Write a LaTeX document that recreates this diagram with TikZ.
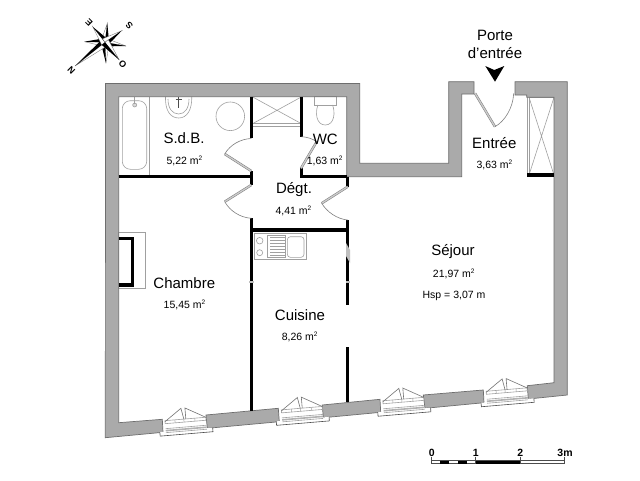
\documentclass[tikz,border=0pt]{standalone}
\usepackage{fontspec}
\setmainfont{Liberation Sans}
\usetikzlibrary{calc}
\definecolor{wallc}{RGB}{170,170,170}
\definecolor{wallo}{RGB}{110,110,110}
\definecolor{fixt}{RGB}{160,160,160}
\tikzset{
  wall/.style={fill=wallc,draw=wallo,line width=0.7pt},
  part/.style={line width=3.4pt,black},
  thin fix/.style={draw=fixt,line width=0.6pt},
  swing/.style={draw=fixt!80!black,line width=0.6pt},
  room/.style={font=\fontsize{15}{17}\selectfont,inner sep=0pt},
  area/.style={font=\fontsize{10.5}{12}\selectfont,inner sep=0pt},
  scal/.style={font=\bfseries\fontsize{10.5}{12}\selectfont,inner sep=0pt},
  comp/.style={font=\bfseries\fontsize{9}{10}\selectfont,inner sep=0pt},
  pics/windowunit/.style={code={
    \draw[thin fix,draw=black!70,fill=white] (-26,9) -- (-26,13) -- (27,13) -- (27,9);
    \draw[thin fix] (-20,6) -- (21,6);
    \draw[thin fix,line width=1.6pt,draw=black!30] (-20,8) -- (21,8);
    \draw[thin fix] (-20,10) -- (21,10);
    \draw[thin fix,fill=white] (-20,-2) rectangle (21,1);
    \draw[thin fix,line width=0.5pt] (-1,-2) -- (-1,1) (-10,-2) -- (-10,1) (10,-2) -- (10,1);
    \draw[thin fix,draw=black!55] (-20,-1) -- (-3,-13) -- (-1,-2);
    \draw[thin fix,draw=black!55] (1,-2) -- (1,-13) -- (21,-2);
  }}
}
\newcommand{\msq}[1]{#1 m\textsuperscript{\fontsize{6.5}{7}\selectfont 2}}
\begin{document}
\begin{tikzpicture}[x=1pt,y=-1pt]
\useasboundingbox[fill=white] (0,0) rectangle (640,480);

% fixtures under walls
\draw[thin fix] (149.7,96.7) -- (149.7,176);
\draw[thin fix,rounded corners=8pt] (122.3,100.7) rectangle (146.7,169.3);
\draw[thin fix,fill=white!70!gray] (134.7,105) circle (2);
\draw[thin fix] (134.7,97) -- (134.7,104);
\draw[thin fix] (165.5,96.7) .. controls (165,110) and (170,118) .. (178.7,118) .. controls (187,118) and (192,110) .. (191.8,96.7);
\draw[thin fix] (168,99) .. controls (168,108) and (172,114) .. (178.7,114) .. controls (185,114) and (189,108) .. (189,99);
\draw[black!70,line width=0.8pt] (178.7,97) -- (178.7,108) (175.5,99) -- (181.5,99);
\draw[thin fix] (230.3,116.3) circle (14.3);
% shower
\draw[thin fix] (253.3,97.3) -- (300.7,123.3) (300.7,97.3) -- (253.3,123.3);
\draw[thin fix] (253.3,123.3) -- (300.7,123.3) (253.3,126.5) -- (300.7,126.5);
% wc
\draw[thin fix] (314,96.7) rectangle (336.7,105);
\draw[thin fix] (318,105) .. controls (315,112) and (316,125) .. (325.3,125) .. controls (334.5,125) and (335.5,112) .. (332.5,105);
% closet chambre
\draw[thin fix] (118.7,232.3) rectangle (145.3,288.3);
% entry closet
\draw[thin fix] (527.3,96) -- (527.3,175);
\draw[thin fix] (529,97.3) rectangle (554,175);
\draw[thin fix] (529,97.3) -- (554,175) (554,97.3) -- (529,175);
% kitchen
\draw[thin fix] (254,233.3) rectangle (306,259.3);
\draw[thin fix] (259.7,240.7) circle (3.3) (259.7,252.7) circle (3);
\draw[thin fix,line width=0.4pt] (266.7,235) rectangle (285,257);
\foreach \yy in {237,240,243,246,249,252,255} \draw[thin fix,line width=0.4pt] (270,\yy) -- (285,\yy);
\draw[thin fix,rounded corners=3pt] (287.3,236.7) rectangle (304,257.3);

% walls
\draw[wall] (105.5,83.5) -- (359.7,83.5) -- (359.7,163.3) -- (448.7,163.3) -- (448.7,81.7) -- (474,81.7) -- (474,94) -- (461.7,94) -- (461.7,176.7) -- (346.7,176.7) -- (346.7,96.7) -- (118.7,96.7) -- (118.7,422.7) -- (162.3,419.3) -- (163,432.3) -- (105.3,437.7) -- cycle;
\draw[wall] (515,81.7) -- (567.3,81.7) -- (567.3,395) -- (528.3,399) -- (527.3,385.7) -- (554,382.7) -- (554,97.3) -- (526.7,97.3) -- (526.7,95) -- (515,95) -- cycle;
\draw[wall] (423.3,395) -- (483.3,390) -- (484,402.7) -- (425,408.3) -- cycle;
\draw[wall] (322.3,405) -- (380,399.3) -- (380.7,412.3) -- (323.3,417.7) -- cycle;
\draw[wall] (206,415) -- (278.3,408.3) -- (279.3,421.7) -- (207.3,428.3) -- cycle;

% partitions
\draw[part] (118.7,176.7) -- (251.3,176.7);
\draw[part] (251.3,96.7) -- (251.3,138);
\draw[part] (251.3,171) -- (251.3,185.3);
\draw[part] (251.3,218.3) -- (251.3,410.5);
\draw[part] (301.7,96.7) -- (301.7,136.7);
\draw[part] (301.7,168.3) -- (301.7,176.7) -- (346.7,176.7);
\draw[part] (347.7,176.7) -- (347.7,186.7);
\draw[part] (347.7,220) -- (347.7,305);
\draw[part] (347.7,347.3) -- (347.7,402.3);
\draw[part] (251.3,230) -- (347.7,230);
\draw[part] (118.7,238.3) -- (132.7,238.3) -- (132.7,285) -- (118.7,285);
\draw[part] (527.3,175) -- (554,175);
% faint marks across the partitions
\fill[black!25] (346,243) -- (350,250) -- (350,263) -- (346,256) -- cycle;
\fill[black!25] (345.5,280.5) rectangle (350,283);
\fill[black!25] (249.2,280.5) rectangle (253.5,283);

% doors
\foreach \xa/\ya/\xb/\yb in {251.3/171/224.7/154, 301/168.3/316.7/141.7, 251.3/185/224.7/201.7, 347.7/186.7/321.7/203.3, 475/93.3/495/126.7}{
  \draw[line width=2.4pt,black!50] (\xa,\ya) -- (\xb,\yb);
  \draw[line width=1.3pt,black!20] (\xa,\ya) -- (\xb,\yb);
}
\draw[swing] (224.7,154) .. controls (230,145) and (240,139) .. (251.3,138.5);
\draw[swing] (316.7,141.7) .. controls (312,138.5) and (307,137) .. (301.7,136.7);
\draw[swing] (224.7,201.7) .. controls (230,211) and (240,217.5) .. (251.3,218.3);
\draw[swing] (321.7,203.3) .. controls (327,212) and (337,219) .. (347.7,220);
\draw[swing] (495,126.7) .. controls (505,121) and (513,108) .. (513.7,93.3);

% windows
\pic[rotate=4.8] at (185,421) {windowunit};
\pic[rotate=4.8] at (301.4,410.2) {windowunit};
\pic[rotate=4.8] at (402.9,401.1) {windowunit};
\pic[rotate=4.8] at (506.2,391.6) {windowunit};

% entrance arrow
\fill[black] (485.3,66) -- (494.3,70) -- (504.3,66) -- (495,81.7) -- cycle;

% labels
\node[room] (sdb) at (184,138) {S.d.B.};
\node[area] (asdb) at (184.7,161) {\msq{5,22}};
\node[room] (wc) at (325.3,139) {WC};
\node[area] (awc) at (325,160.5) {\msq{1,63}};
\node[room] (degt) at (294,190) {Dégt.};
\node[area] (adegt) at (293.7,211) {\msq{4,41}};
\node[room] (entree) at (494.3,142.7) {Entrée};
\node[area] (aentree) at (494.7,165) {\msq{3,63}};
\node[room] (porte) at (495,35) {Porte};
\node[room] (dentree) at (495,53) {d'entrée};
\node[room] (chambre) at (184.3,282.7) {Chambre};
\node[area] (achambre) at (184.7,305.3) {\msq{15,45}};
\node[room] (cuisine) at (300,315) {Cuisine};
\node[area] (acuisine) at (300,336.7) {\msq{8,26}};
\node[room] (sejour) at (453,252) {Séjour};
\node[area] (asejour) at (454,274) {\msq{21,97}};
\node[area] (hsp) at (454,296) {Hsp = 3,07 m};

% scale bar
\draw[black!70,line width=0.5pt,fill=white] (431.7,460.7) rectangle (564.7,463.3);
\foreach \xa/\xb in {440.3/449.3,458.3/467,476/520.3}
  \fill[black] (\xa,460.5) rectangle (\xb,463.5);
\foreach \xx in {431.7,475.7,520.3,564.7}
  \draw[black!70,line width=0.7pt] (\xx,456.5) -- (\xx,463.3);
\node[scal] (s0) at (431.7,452.7) {0};
\node[scal] (s1) at (475.7,452.7) {1};
\node[scal] (s2) at (520.3,452.7) {2};
\node[scal] (s3) at (565,452.7) {3m};

% compass
\coordinate (cc) at (105,42.3);
\foreach \px/\py in {107.3/23.3, 126/46, 106/63.3, 84.3/41.7, 75/66, 92.7/26.7, 121.7/30.7, 119.3/60}{
  \coordinate (tmpb) at (\px,\py);
  \coordinate (sl) at ($(cc)!4.2pt!90:(tmpb)$);
  \coordinate (sr) at ($(cc)!4.2pt!-90:(tmpb)$);
  \draw[fill=white,line width=0.3pt,draw=black!60] (cc) -- (sl) -- (tmpb) -- cycle;
  \fill[black] (cc) -- (sr) -- (tmpb) -- cycle;
}
\node[comp,rotate=135] (ce) at (89,22.7) {E};
\node[comp,rotate=135] (cs) at (129.3,25.3) {S};
\node[comp,rotate=135] (co) at (122.7,64.3) {O};
\node[comp,rotate=135] (cn) at (71.3,70.3) {N};
\end{tikzpicture}
\end{document}
